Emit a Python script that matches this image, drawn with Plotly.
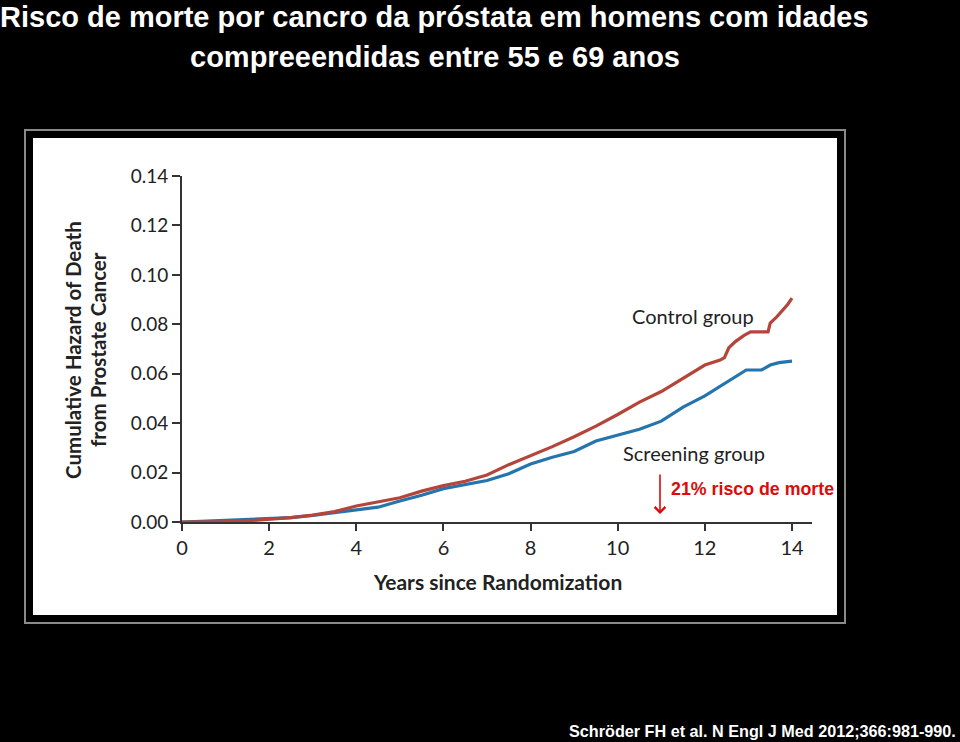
import plotly.graph_objects as go

W, H = 960, 742

# ---- data ----
control_years = [0, 0.5, 1, 1.5, 2, 2.5, 3, 3.5, 4, 4.5, 5, 5.5, 6, 6.5, 7, 7.5, 8, 8.5, 9, 9.5,
                 10, 10.5, 11, 11.5, 12, 12.35, 12.45, 12.55, 12.7, 12.9, 13.05, 13.45, 13.5, 13.65,
                 13.8, 13.9, 14.0]
control_hazard = [0, 0.0, 0.0002, 0.0005, 0.001, 0.0018, 0.0028, 0.0042, 0.0065, 0.008, 0.0098,
                  0.0125, 0.0147, 0.0165, 0.019, 0.0232, 0.0268, 0.0305, 0.0345, 0.0388, 0.0435,
                  0.0485, 0.0528, 0.0583, 0.0635, 0.0655, 0.0665, 0.0705, 0.073, 0.0755, 0.0769,
                  0.0769, 0.0805, 0.083, 0.0858, 0.088, 0.0906]

screening_years = [0, 0.5, 1, 1.5, 2, 2.5, 3, 3.5, 4, 4.5, 5, 5.5, 6, 6.5, 7, 7.5, 8, 8.5, 9, 9.5,
                   10, 10.5, 11, 11.5, 12, 12.5, 12.95, 13.3, 13.4, 13.5, 13.7, 14.0]
screening_hazard = [0, 0.0003, 0.0006, 0.0009, 0.0013, 0.0018, 0.0027, 0.0038, 0.0052, 0.006,
                    0.0085, 0.0108, 0.0135, 0.0152, 0.0168, 0.0195, 0.0235, 0.0262, 0.0285, 0.0328,
                    0.0352, 0.0375, 0.0408, 0.0465, 0.051, 0.0566, 0.0615, 0.0615, 0.0625, 0.0635,
                    0.0645, 0.0651]

x_ticks = [0, 2, 4, 6, 8, 10, 12, 14]
y_ticks = [0.00, 0.02, 0.04, 0.06, 0.08, 0.10, 0.12, 0.14]
y_tick_labels = ["0.00", "0.02", "0.04", "0.06", "0.08", "0.10", "0.12", "0.14"]

title_lines = ["Risco de morte por cancro da próstata em homens com idades",
               "compreeendidas entre 55 e 69 anos"]
source_text = "Schröder FH et al. N Engl J Med 2012;366:981-990."
y_title_lines = ["Cumulative Hazard of Death", "from Prostate Cancer"]
x_title = "Years since Randomization"
control_label = "Control group"
screening_label = "Screening group"
risk_label = "21% risco de morte"

RED = "#b5453a"
BLUE = "#2474ad"
AX = "#333333"
TXT = "#222222"
CHART_FONT = "Lato"


def px(x):
    return x / W


def py(y):
    return 1 - y / H


fig = go.Figure()
fig.add_trace(go.Scatter(x=screening_years, y=screening_hazard, mode="lines",
                         line=dict(color=BLUE, width=3.2), cliponaxis=False,
                         name="Screening group"))
fig.add_trace(go.Scatter(x=control_years, y=control_hazard, mode="lines",
                         line=dict(color=RED, width=3.2), cliponaxis=False,
                         name="Control group"))

shapes = [
    dict(type="rect", xref="paper", yref="paper", x0=px(25), x1=px(845), y0=py(623), y1=py(130),
         line=dict(color="#8a8a8a", width=2), fillcolor="black", layer="below"),
    dict(type="rect", xref="paper", yref="paper", x0=px(33), x1=px(837), y0=py(615), y1=py(138),
         line=dict(width=0), fillcolor="white", layer="below"),
]

annotations = [
    dict(text="<b>" + title_lines[0] + "</b>", x=px(434), y=py(17), xref="paper", yref="paper",
         xanchor="center", yanchor="middle", showarrow=False,
         font=dict(family="Liberation Sans, Arial", size=29, color="white")),
    dict(text="<b>" + title_lines[1] + "</b>", x=px(435), y=py(57), xref="paper", yref="paper",
         xanchor="center", yanchor="middle", showarrow=False,
         font=dict(family="Liberation Sans, Arial", size=29, color="white")),
    dict(text="<b>" + source_text + "</b>", x=px(958), y=py(731), xref="paper", yref="paper",
         xanchor="right", yanchor="middle", showarrow=False,
         font=dict(family="Liberation Sans, Arial", size=16.2, color="white")),
    dict(text="<b>" + y_title_lines[0] + "</b>", x=px(73), y=py(350), xref="paper", yref="paper",
         xanchor="center", yanchor="middle", showarrow=False, textangle=-90,
         font=dict(family=CHART_FONT, size=20.5, color=TXT)),
    dict(text="<b>" + y_title_lines[1] + "</b>", x=px(98), y=py(350), xref="paper", yref="paper",
         xanchor="center", yanchor="middle", showarrow=False, textangle=-90,
         font=dict(family=CHART_FONT, size=20.5, color=TXT)),
    dict(text="<b>" + x_title + "</b>", x=px(497), y=py(581), xref="paper", yref="paper",
         xanchor="center", yanchor="middle", showarrow=False,
         font=dict(family=CHART_FONT, size=21, color=TXT)),
    dict(text=control_label, x=px(693), y=py(316), xref="paper", yref="paper",
         xanchor="center", yanchor="middle", showarrow=False,
         font=dict(family=CHART_FONT, size=20, color=TXT)),
    dict(text=screening_label, x=px(694), y=py(453), xref="paper", yref="paper",
         xanchor="center", yanchor="middle", showarrow=False,
         font=dict(family=CHART_FONT, size=20, color=TXT)),
    dict(text="<b>" + risk_label + "</b>", x=px(752), y=py(489), xref="paper", yref="paper",
         xanchor="center", yanchor="middle", showarrow=False,
         font=dict(family="Liberation Sans, Arial", size=17.8, color="#dd0a0a")),
    dict(text="", x=px(660), y=py(514), xref="paper", yref="paper", ax=0, ay=-41,
         showarrow=True, arrowhead=4, arrowsize=1.3, arrowwidth=1.6, arrowcolor="#dd0a0a"),
]

fig.update_layout(
    width=W, height=H,
    margin=dict(l=0, r=0, t=0, b=0, pad=0, autoexpand=False),
    paper_bgcolor="black", plot_bgcolor="rgba(0,0,0,0)",
    showlegend=False,
    shapes=shapes, annotations=annotations,
    xaxis=dict(domain=[px(182), px(812)], range=[0, 14 * 630 / 610], automargin=False,
               tickvals=x_ticks, ticktext=[str(t) for t in x_ticks],
               ticks="outside", ticklen=7, tickwidth=2, tickcolor=AX,
               showline=True, linecolor=AX, linewidth=2, showgrid=False, zeroline=False,
               tickfont=dict(family=CHART_FONT, size=20, color=TXT)),
    yaxis=dict(domain=[py(522), py(176)], range=[0, 0.14], automargin=False,
               tickvals=y_ticks, ticktext=y_tick_labels,
               ticks="outside", ticklen=8, tickwidth=2, tickcolor=AX,
               showline=True, linecolor=AX, linewidth=2, showgrid=False, zeroline=False,
               tickfont=dict(family=CHART_FONT, size=19, color=TXT)),
)

fig.write_html("out.html", config={"displayModeBar": False},
               post_script="document.body.style.margin='0';document.body.style.background='black';")
